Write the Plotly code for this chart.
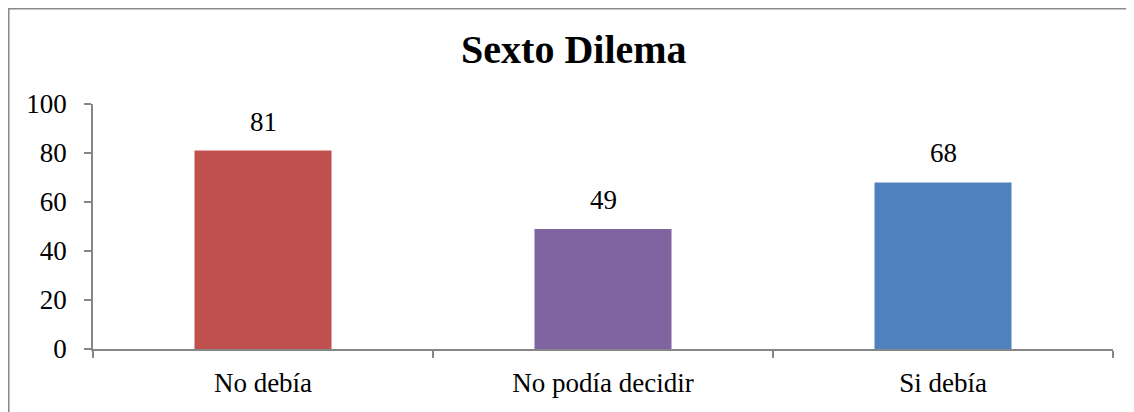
import plotly.graph_objects as go

categories = ["No debía", "No podía decidir", "Si debía"]
values = [81, 49, 68]
bar_colors = ["#C0504D", "#8064A2", "#4F81BD"]
y_ticks = [0, 20, 40, 60, 80, 100]

FONT = "Liberation Serif"
AXIS_GRAY = "#868686"

fig = go.Figure()

fig.add_trace(go.Bar(
    x=categories,
    y=values,
    marker=dict(color=bar_colors, line=dict(width=0)),
    showlegend=False,
))

# value labels above bars
for cat, val in zip(categories, values):
    fig.add_annotation(
        x=cat, y=val, text=str(val),
        showarrow=False, yanchor="bottom", yshift=12,
        font=dict(family=FONT, size=27, color="#000000"),
    )

# outer frame of the chart object: only left and top edges are in view
fig.add_shape(
    type="path", xref="paper", yref="paper",
    path="M -0.0828,-0.6 L -0.0828,1.3898 L 1.2,1.3898",
    line=dict(color="#8a8a8a", width=2),
    layer="below",
)

# page body adds ~8px offset, margins compensate for it
fig.update_layout(
    width=1134, height=412,
    margin=dict(l=85, r=29, t=96, b=71),
    paper_bgcolor="white", plot_bgcolor="white",
    bargap=0.597,
    title=dict(
        text="<b>Sexto Dilema</b>",
        x=0.499, xref="container", xanchor="center",
        y=0.9, yref="container", yanchor="middle",
        font=dict(family=FONT, size=40, color="#000000"),
    ),
    font=dict(family=FONT, size=27, color="#000000"),
)

fig.update_xaxes(
    showline=True, linecolor=AXIS_GRAY, linewidth=1.5,
    ticks="outside", ticklen=7, tickcolor=AXIS_GRAY, tickwidth=1.5,
    tickson="boundaries", showgrid=False, zeroline=False,
    ticklabelstandoff=9,
    tickfont=dict(family=FONT, size=27, color="#000000"),
)
fig.update_yaxes(
    range=[0, 100], tickvals=y_ticks,
    showline=True, linecolor=AXIS_GRAY, linewidth=1.5,
    ticks="outside", ticklen=7, tickcolor=AXIS_GRAY, tickwidth=1.5,
    showgrid=False, zeroline=False, ticklabelstandoff=12,
    tickfont=dict(family=FONT, size=27, color="#000000"),
)

fig.write_html("out.html")
